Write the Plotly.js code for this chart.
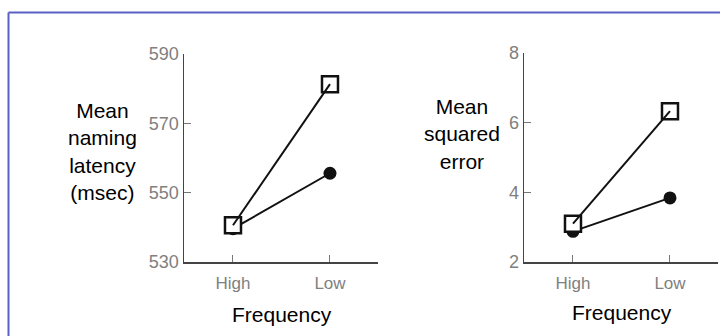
<!DOCTYPE html>
<html>
<head>
<meta charset="utf-8">
<script src="https://cdn.plot.ly/plotly-3.0.1.min.js"></script>
<style>html,body{margin:0;padding:0;background:#fff;}#chart{width:720px;height:336px;}</style>
</head>
<body>
<div id="chart"></div>
<script>
// Data
const categories = ["High", "Low"];
const latencySquares = [540.6, 581.3];
const latencyCircles = [539.6, 555.6];
const errorSquares = [3.1, 6.33];
const errorCircles = [2.88, 3.84];
const latencyTicks = [530, 550, 570, 590];
const errorTicks = [2, 4, 6, 8];

const FONT = "'Liberation Sans', Arial, sans-serif";

function sq(x, y, xa, ya) {
  return {x: x, y: y, xaxis: xa, yaxis: ya, type: 'scatter', mode: 'lines+markers',
    line: {color: '#111', width: 2},
    marker: {symbol: 'square-open', size: 16, color: '#111', line: {width: 2.5, color: '#111'}},
    cliponaxis: false, showlegend: false, hoverinfo: 'skip'};
}
function circ(x, y, xa, ya) {
  return {x: x, y: y, xaxis: xa, yaxis: ya, type: 'scatter', mode: 'lines+markers',
    line: {color: '#111', width: 2},
    marker: {symbol: 'circle', size: 13, color: '#111'},
    cliponaxis: false, showlegend: false, hoverinfo: 'skip'};
}
function fill(x, y, xa, ya) {
  return {x: x, y: y, xaxis: xa, yaxis: ya, type: 'scatter', mode: 'markers',
    marker: {symbol: 'square', size: 16, color: '#fff'}, showlegend: false, hoverinfo: 'skip', cliponaxis: false};
}

const data = [
  circ(categories, latencyCircles, 'x', 'y'),
  fill(categories, latencySquares, 'x', 'y'),
  sq(categories, latencySquares, 'x', 'y'),
  circ(categories, errorCircles, 'x2', 'y2'),
  fill(categories, errorSquares, 'x2', 'y2'),
  sq(categories, errorSquares, 'x2', 'y2')
];

const xAxisCommon = {
  type: 'category', range: [-0.505, 1.495], showline: true, linecolor: '#444', linewidth: 1.5,
  ticks: 'inside', ticklen: 7, tickcolor: '#777', tickwidth: 1, showgrid: false, zeroline: false,
  ticklabelstandoff: 5,
  tickfont: {family: FONT, size: 17, color: '#808080'}, fixedrange: true
};
const yAxisCommon = {
  showline: true, linecolor: '#444', linewidth: 1.5, ticks: 'inside', ticklen: 7, tickcolor: '#777',
  tickwidth: 1, showgrid: false, zeroline: false, tickmode: 'array',
  tickfont: {family: FONT, size: 18, color: '#808080'}, fixedrange: true
};

const W = 720, H = 336;
const px = v => v / W, py = v => 1 - v / H;

const layout = {
  width: W, height: H, margin: {l: 0, r: 0, t: 0, b: 0},
  paper_bgcolor: '#fff', plot_bgcolor: 'rgba(0,0,0,0)', showlegend: false,
  xaxis: Object.assign({}, xAxisCommon, {domain: [px(184), px(378)], anchor: 'y'}),
  yaxis: Object.assign({}, yAxisCommon, {domain: [py(262), py(54)], range: [530, 590], anchor: 'x',
    tickvals: latencyTicks, ticktext: latencyTicks.map(String)}),
  xaxis2: Object.assign({}, xAxisCommon, {domain: [px(524), px(718)], anchor: 'y2'}),
  yaxis2: Object.assign({}, yAxisCommon, {domain: [py(262), py(53)], range: [2, 8], anchor: 'x2',
    tickvals: errorTicks, ticktext: errorTicks.map(String)}),
  annotations: [
    {text: 'Mean<br>naming<br>latency<br>(msec)', xref: 'paper', yref: 'paper', x: px(102), y: py(152),
     xanchor: 'center', yanchor: 'middle', showarrow: false, align: 'center',
     font: {family: FONT, size: 21, color: '#000'}},
    {text: 'Mean<br>squared<br>error', xref: 'paper', yref: 'paper', x: px(462), y: py(134),
     xanchor: 'center', yanchor: 'middle', showarrow: false, align: 'center',
     font: {family: FONT, size: 21, color: '#000'}},
    {text: 'Frequency', xref: 'paper', yref: 'paper', x: px(282), y: py(314),
     xanchor: 'center', yanchor: 'middle', showarrow: false,
     font: {family: FONT, size: 21, color: '#000'}},
    {text: 'Frequency', xref: 'paper', yref: 'paper', x: px(622), y: py(312),
     xanchor: 'center', yanchor: 'middle', showarrow: false,
     font: {family: FONT, size: 21, color: '#000'}}
  ],
  shapes: [
    {type: 'line', xref: 'paper', yref: 'paper', x0: px(8.5), x1: 1, y0: py(12.5), y1: py(12.5),
     line: {color: '#5a60c4', width: 2}},
    {type: 'line', xref: 'paper', yref: 'paper', x0: px(8.5), x1: px(8.5), y0: py(12.5), y1: 0,
     line: {color: '#5a60c4', width: 2}}
  ]
};

Plotly.newPlot('chart', data, layout, {staticPlot: true, displayModeBar: false});
</script>
</body>
</html>
